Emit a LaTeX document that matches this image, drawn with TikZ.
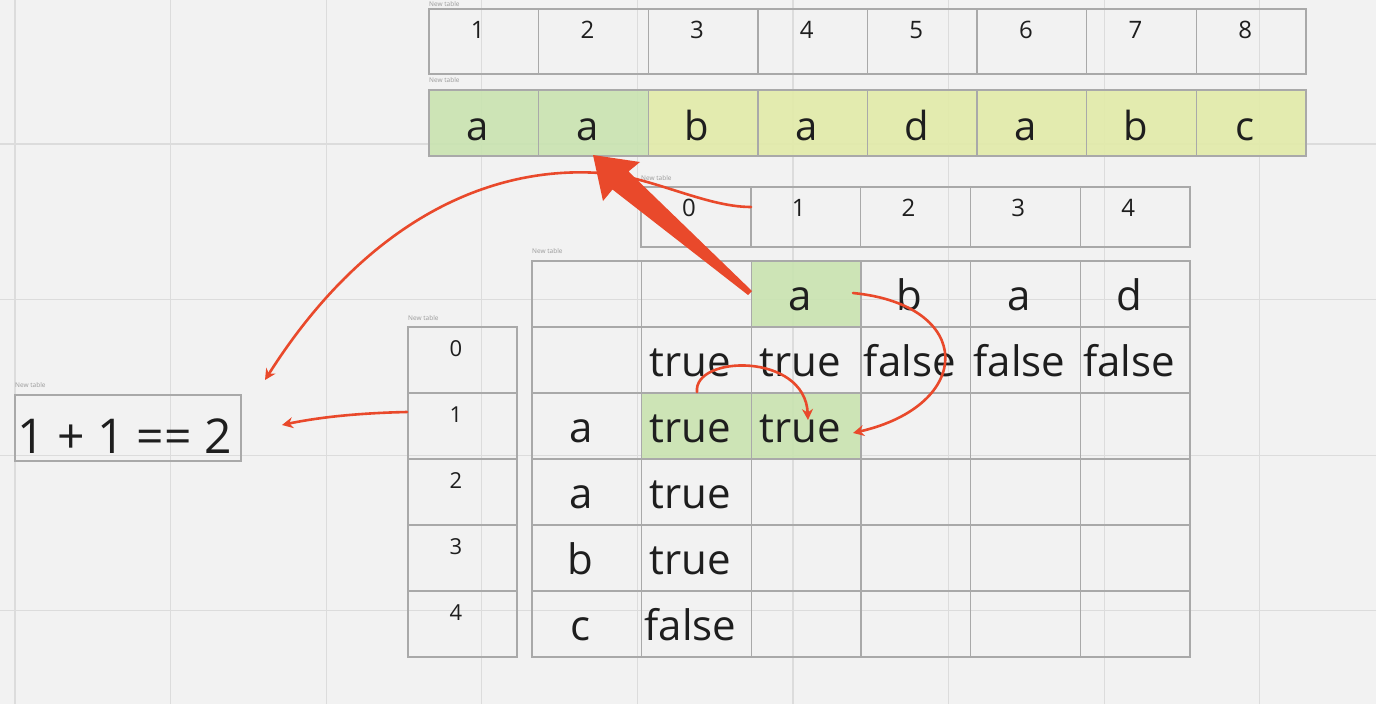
\documentclass[tikz,border=0pt]{standalone}
\usepackage{fontspec}
\setmainfont{Open Sans}
\usetikzlibrary{arrows.meta}
\definecolor{bg}{HTML}{F2F2F2}
\definecolor{gridc}{HTML}{DCDCDC}
\definecolor{border}{HTML}{A9A9A9}
\definecolor{cgreen}{HTML}{C9E3B0}
\definecolor{cyellow}{HTML}{E2EBA8}
\definecolor{cred}{HTML}{E9492B}
\definecolor{labelc}{HTML}{9A9A9A}
\definecolor{txt}{HTML}{1E1E1E}
\begin{document}
\begin{tikzpicture}[x=1pt,y=-1pt,
  tbl/.style={draw=border,line width=1.4pt},
  bigtxt/.style={font=\fontsize{42}{48}\selectfont,text=txt,inner sep=0pt,anchor=base},
  midtxt/.style={font=\fontsize{40}{46}\selectfont,text=txt,inner sep=0pt,anchor=base},
  numtxt/.style={font=\fontsize{24}{28}\selectfont,text=txt,inner sep=0pt,anchor=base},
  numtxtb/.style={font=\fontsize{22}{26}\selectfont,text=txt,inner sep=0pt,anchor=base},
  lbl/.style={font=\fontsize{6.5}{7}\selectfont,text=labelc,anchor=base west,inner sep=0pt},
  conn/.style={draw=cred,line width=2.6pt,line cap=round,-{Stealth[length=11pt,width=11pt]}}
]
\fill[bg] (0,0) rectangle (1376,704);
\clip (0,0) rectangle (1376,704);
% background grid
\foreach \k in {0,...,8} \draw[gridc,line width=1.2pt] ({15+155.6*\k},0) -- ({15+155.6*\k},704);
\foreach \y in {144,299.6,455.2,610.8} \draw[gridc,line width=1.2pt] (0,\y) -- (1376,\y);

% fills
\fill[cgreen,fill opacity=0.9] (429,90) rectangle (648.25,156);
\fill[cyellow,fill opacity=0.9] (648.25,90) rectangle (1306,156);
\fill[cgreen,fill opacity=0.9] (751.3,261) rectangle (861,327);
\fill[cgreen,fill opacity=0.9] (641.7,393) rectangle (861,459);

% table 1 (indices 1..8)
\node[lbl] (lab1) at (429,6.5) {New table};
\draw[tbl] (429,9) rectangle (1306,74);
\foreach \k in {1,...,7} \draw[tbl] ({429+109.625*\k},9) -- ({429+109.625*\k},74);
\foreach \n [count=\i from 0] in {1,...,8}
  \node[numtxt] (ta\n) at ({429+109.625*\i+48.8},38) {\n};

% table 2 (letters)
\node[lbl] (lab2) at (429,82) {New table};
\draw[tbl] (429,90) rectangle (1306,156);
\foreach \k in {1,...,7} \draw[tbl] ({429+109.625*\k},90) -- ({429+109.625*\k},156);
\foreach \c [count=\i from 0] in {a,a,b,a,d,a,b,c}
  \node[midtxt] (tb\i) at ({429+109.625*\i+48.8},140) {\c};

% table 3 (indices 0..4)
\node[lbl] (lab3) at (641,180) {New table};
\draw[tbl] (641,187) rectangle (1190,247);
\foreach \k in {1,...,4} \draw[tbl] ({641+109.8*\k},187) -- ({641+109.8*\k},247);
\foreach \n in {0,...,4}
  \node[numtxt] (tc\n) at ({641+109.8*\n+47.9},216) {\n};

% table 4 (DP table)
\node[lbl] (lab4) at (532,253) {New table};
\draw[tbl] (532,261) rectangle (1190,657);
\foreach \k in {1,...,5} \draw[tbl] ({532+109.67*\k},261) -- ({532+109.67*\k},657);
\foreach \k in {1,...,5} \draw[tbl] (532,{261+66*\k}) -- (1190,{261+66*\k});
\foreach \r/\c/\t in {0/2/a,0/3/b,0/4/a,0/5/d,
    1/1/true,1/2/true,1/3/false,1/4/false,1/5/false,
    2/0/a,2/1/true,2/2/true,
    3/0/a,3/1/true,
    4/0/b,4/1/true,
    5/0/c,5/1/false}
  \node[bigtxt] (m\r\c) at ({532+109.67*\c+48.8},{310+66*\r}) {\t};

% table 5 (indices 0..4, vertical)
\node[lbl] (lab5) at (408,320) {New table};
\draw[tbl] (408,327) rectangle (517,657);
\foreach \k in {1,...,4} \draw[tbl] (408,{327+66*\k}) -- (517,{327+66*\k});
\foreach \n in {0,...,4}
  \node[numtxtb] (td\n) at (456,{356+66*\n}) {\n};

% table 6
\node[lbl] (lab6) at (15,387) {New table};
\draw[tbl] (15,395) rectangle (241,461);
\node[font=\fontsize{48}{54}\selectfont,text=txt,inner sep=0pt,anchor=base west] (eq) at (17,453) {1 + 1 == 2};

% connectors
\coordinate (a2s) at (751,207);
\coordinate (a2m) at (600,173);
\coordinate (a2e) at (265,380);
\draw[conn] (a2s) .. controls (705,207) and (650,176) .. (a2m)
  .. controls (480,165) and (360,230) .. (a2e);

\coordinate (a3s) at (407,412);
\coordinate (a3e) at (282,425);
\draw[conn] (a3s) .. controls (360,413) and (320,417) .. (a3e);

\coordinate (a4s) at (853,293);
\coordinate (a4e) at (853,433);
\draw[conn] (a4s) .. controls (975,305) and (975,405) .. (a4e);

\coordinate (a5s) at (697,392);
\coordinate (a5e) at (808,420);
\draw[conn] (a5s) .. controls (693,355) and (805,352) .. (a5e);

% big arrow
\coordinate (bas) at (750,293);
\coordinate (bat) at (593,155);
\fill[cred] (752,291) -- (628.5,171.5) -- (640,162) -- (bat) -- (603,201) -- (612.5,189.5) -- (748,295) -- cycle;
\end{tikzpicture}
\end{document}
